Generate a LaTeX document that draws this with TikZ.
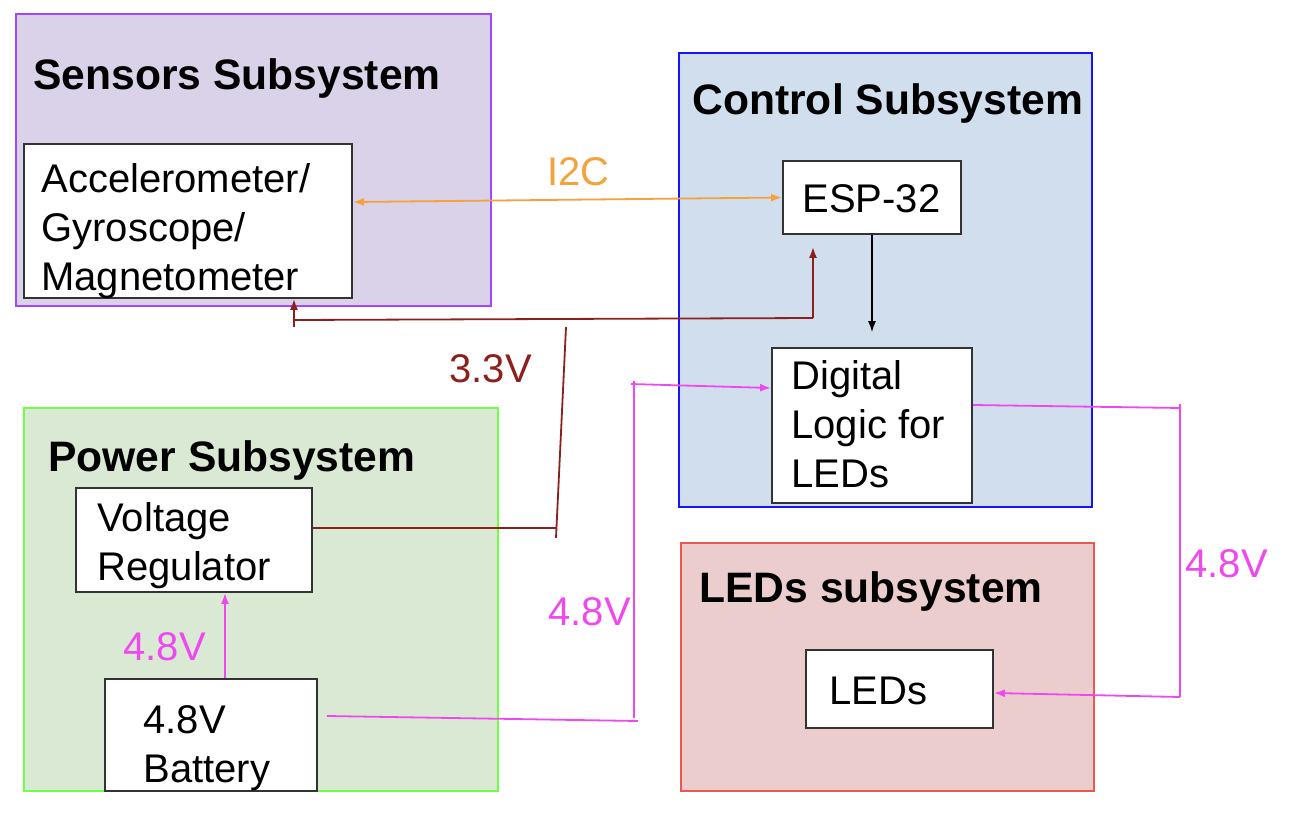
\documentclass[tikz,border=0pt]{standalone}
\usepackage{fontspec}
\setmainfont{Liberation Sans}
\usepackage{tikz}
\usetikzlibrary{positioning,calc,arrows.meta,fit}
\definecolor{sensfill}{RGB}{217,210,233}
\definecolor{sensline}{RGB}{160,70,255}
\definecolor{ctrlfill}{RGB}{208,222,238}
\definecolor{ctrlline}{RGB}{20,20,255}
\definecolor{pwrfill}{RGB}{218,233,212}
\definecolor{pwrline}{RGB}{110,255,70}
\definecolor{ledfill}{RGB}{236,205,205}
\definecolor{ledline}{RGB}{232,90,80}
\definecolor{myorange}{RGB}{245,162,58}
\definecolor{mydarkred}{RGB}{140,32,28}
\definecolor{mymagenta}{RGB}{240,72,240}

\begin{document}
\begin{tikzpicture}[x=0.5pt,y=-0.5pt,
sub/.style={draw,line width=1pt,inner sep=0pt},
blk/.style={draw=black!80,line width=0.9pt,fill=white,inner sep=0pt},
ttl/.style={anchor=base west,inner sep=0pt,font=\fontsize{21.3}{25}\selectfont\bfseries},
txt/.style={anchor=base west,inner sep=0pt,align=left,font=\fontsize{20}{24.4}\selectfont},
lbl/.style={anchor=base west,inner sep=0pt,font=\fontsize{20}{24}\selectfont},
edge/.style={-{Latex[length=5.5pt,width=4pt]}},
v33/.style={draw=mydarkred,line width=0.9pt},
v48/.style={draw=mymagenta,line width=0.9pt}]

\useasboundingbox (0,0) rectangle (1292,814);

% subsystems
\node[sub,draw=sensline,fill=sensfill,fit={(16,14) (491,306)}](sens){};
\node[sub,draw=ctrlline,fill=ctrlfill,fit={(679,53) (1092,507)}](ctrl){};
\node[sub,draw=pwrline,fill=pwrfill,fit={(24,408) (498,791)}](pwr){};
\node[sub,draw=ledline,fill=ledfill,fit={(681,543) (1094,791)}](leds){};

% subsystem titles
\node[ttl] (sensT) at (33,89) {Sensors Subsystem};
\node[ttl] (ctrlT) at (692,114) {Control Subsystem};
\node[ttl] (pwrT) at (48,471) {Power Subsystem};
\node[ttl] (ledsT) at (699,602) {LEDs subsystem};

% blocks
\node[blk,fit={(24,144) (352,298)}](acc){};
\node[blk,fit={(783,161) (961,234)}](esp){};
\node[blk,fit={(772,348) (972,503)}](dig){};
\node[blk,fit={(76,488) (312,592)}](reg){};
\node[blk,fit={(105,679) (317,791)}](bat){};
\node[blk,fit={(806,650) (993,728)}](led){};

% block texts (base = last line)
\node[txt] (accT) at (41,290) {Accelerometer/\\Gyroscope/\\Magnetometer};
\node[txt] (espT) at (802,212) {ESP-32};
\node[txt] (digT) at (791,487) {Digital\\Logic for\\LEDs};
\node[txt] (regT) at (97,580) {Voltage\\Regulator};
\node[txt] (batT) at (143,782) {4.8V\\Battery};
\node[txt] (ledT) at (829,704) {LEDs};

% I2C
\draw[myorange,line width=0.9pt,{Latex[length=5.5pt,width=4pt]}-{Latex[length=5.5pt,width=4pt]}] ([yshift=9.5pt]acc.east) -- (esp.west);
\node[lbl,text=myorange] (i2cL) at (547,185) {I2C};

% 3.3V
\coordinate (p1) at (556,528);
\coordinate (p2) at (556,538);
\coordinate (p3) at (566,327);
\coordinate (p4) at (294,320);
\coordinate (p5) at (813,318);
\coordinate (p6) at (294,327);
\draw[v33] ([yshift=6pt]reg.east) -- (p1);
\draw[v33] (p2) -- (p3);
\draw[v33] (p4) -- (p5);
\draw[v33,edge] (p6) -- (p6 |- acc.south);
\draw[v33,edge,shorten >=6pt] (p5) -- (p5 |- esp.south);
\node[lbl,text=mydarkred] (v33L) at (449,382) {3.3V};

% 4.8V
\coordinate (b1) at ($(bat.north)+(14,0)$);
\draw[v48,edge] (b1) -- (b1 |- reg.south);
\node[lbl,text=mymagenta] (batL) at (123,660) {4.8V};

\coordinate (m1) at (638,721);
\coordinate (m2) at (634,718);
\coordinate (m3) at (634,381);
\coordinate (m4) at (631,384);
\draw[v48] ($(bat.east)+(9,-19)$) -- (m1);
\draw[v48] (m2) -- (m3);
\draw[v48,edge] (m4) -- ([yshift=18.75pt]dig.west);
\node[lbl,text=mymagenta] (digL) at (548,625) {4.8V};

\coordinate (m5) at (1181,408);
\coordinate (m6) at (1180,404);
\coordinate (m7) at (1180,697);
\draw[v48] ([yshift=10.25pt]dig.east) -- (m5);
\draw[v48] (m6) -- (m7);
\draw[v48,edge] (m7) -- ([yshift=-2pt]led.east);
\node[lbl,text=mymagenta] (ledL) at (1185,577) {4.8V};

% ESP to logic
\draw[edge,line width=0.7pt,shorten >=7.5pt] (esp.south) -- (esp.south |- dig.north);
\end{tikzpicture}
\end{document}
